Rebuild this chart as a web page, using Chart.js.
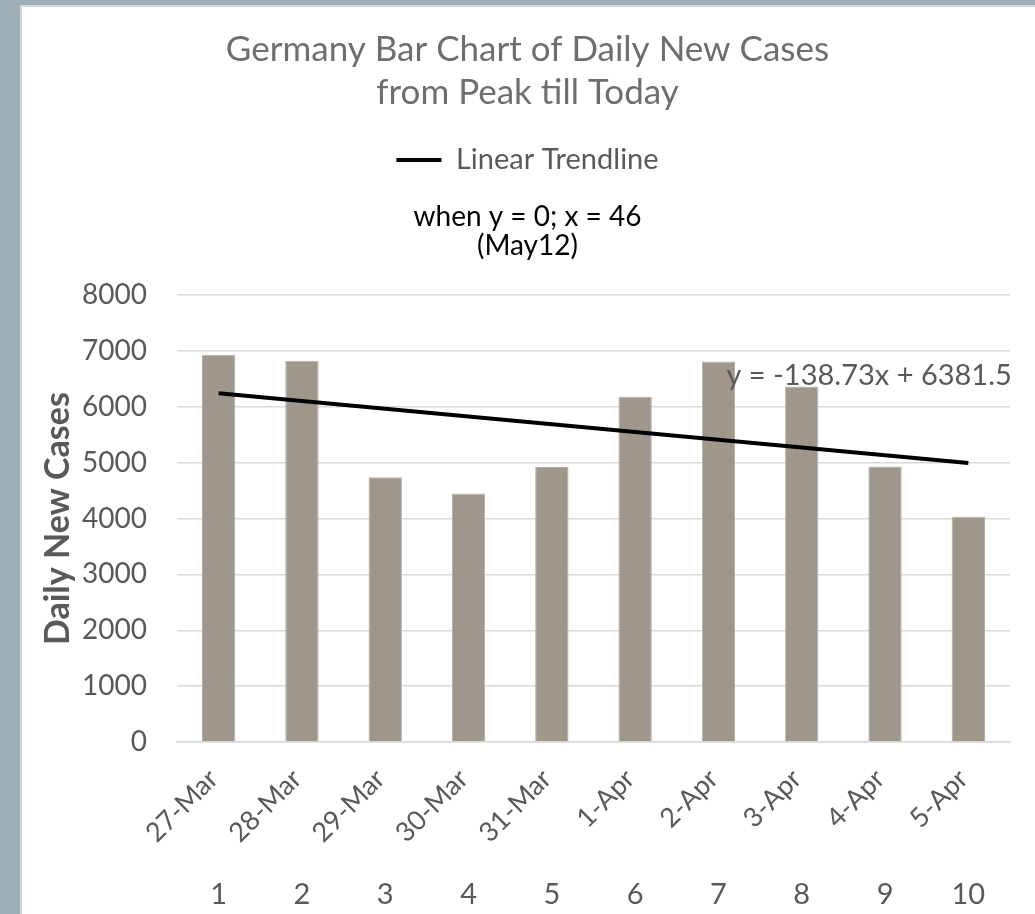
<!DOCTYPE html>
<html>
<head>
<meta charset="utf-8">
<script src="https://cdn.jsdelivr.net/npm/chart.js@4/dist/chart.umd.min.js"></script>
<style>
  html, body { margin: 0; padding: 0; }
  body { width: 1035px; height: 914px; background: #9eafb6; position: relative; overflow: hidden; }
  #panel { position: absolute; left: 20px; top: 5px; width: 1015px; height: 909px; background: #ffffff; box-sizing: border-box; border-left: 2px solid #d3d8da; border-top: 2px solid #d3d8da; }
  #c { position: absolute; left: 20px; top: 5px; }
</style>
</head>
<body>
<div id="panel"></div>
<canvas id="c" width="1015" height="909"></canvas>
<script>
// ---- data ----
const categories = ['27-Mar', '28-Mar', '29-Mar', '30-Mar', '31-Mar', '1-Apr', '2-Apr', '3-Apr', '4-Apr', '5-Apr'];
const dayNumbers = ['1', '2', '3', '4', '5', '6', '7', '8', '9', '10'];
const dailyNewCases = [6933, 6824, 4740, 4450, 4923, 6180, 6813, 6365, 4933, 4031];
const trendline = [6243, 6104, 5965, 5827, 5688, 5549, 5410, 5272, 5133, 4994];
const yTicks = [0, 1000, 2000, 3000, 4000, 5000, 6000, 7000, 8000];
const titleLines = ['Germany Bar Chart of Daily New Cases', 'from Peak till Today'];
const subtitleLines = ['when y = 0; x = 46', '(May12)'];
const equationText = 'y = -138.73x + 6381.5';

const FONT = "Lato, 'Open Sans', sans-serif";
const GREY = '#595959';

const equationPlugin = {
  id: 'equation',
  afterDatasetsDraw(chart) {
    const ctx = chart.ctx;
    const xs = chart.scales.x, ys = chart.scales.y;
    ctx.save();
    ctx.font = '29px ' + FONT;
    ctx.fillStyle = GREY;
    ctx.textAlign = 'left';
    ctx.textBaseline = 'alphabetic';
    ctx.fillText(equationText, xs.getPixelForValue(6) + 8, ys.getPixelForValue(6000) - 22);
    ctx.restore();
  }
};

new Chart(document.getElementById('c'), {
  data: {
    labels: categories,
    datasets: [
      {
        type: 'line',
        label: 'Linear Trendline',
        data: trendline,
        borderColor: '#000000',
        backgroundColor: '#000000',
        borderWidth: 4,
        pointRadius: 0,
        tension: 0,
        fill: false,
        order: 0,
        xAxisID: 'x',
        yAxisID: 'y'
      },
      {
        type: 'bar',
        label: 'Daily New Cases',
        data: dailyNewCases,
        backgroundColor: '#a0978b',
        borderColor: '#b3aca2',
        borderWidth: 1,
        categoryPercentage: 1,
        barPercentage: 0.4,
        order: 1,
        xAxisID: 'x',
        yAxisID: 'y'
      }
    ]
  },
  options: {
    responsive: false,
    animation: false,
    layout: { padding: { left: 0, right: 0, top: 0, bottom: 0 } },
    plugins: {
      tooltip: { enabled: false },
      title: {
        display: true,
        text: titleLines,
        color: '#6e6e6e',
        font: { family: FONT, size: 35, weight: 'normal', lineHeight: 1.23 },
        padding: { top: 23.5, bottom: 21 }
      },
      legend: {
        display: true,
        position: 'top',
        weight: 1800,
        labels: {
          usePointStyle: true,
          pointStyle: 'line',
          pointStyleWidth: 45,
          color: GREY,
          font: { family: FONT, size: 29 },
          filter: (item) => item.text === 'Linear Trendline'
        }
      },
      subtitle: {
        display: true,
        text: subtitleLines,
        color: '#000000',
        font: { family: FONT, size: 28, weight: 'normal', lineHeight: 1.036 },
        padding: { top: 18, bottom: 34.5 }
      }
    },
    scales: {
      x: {
        type: 'category',
        position: 'bottom',
        weight: 1,
        grid: { display: false, drawTicks: false },
        border: { display: true, color: '#d9d9d9', width: 1.5 },
        ticks: { color: GREY, font: { family: FONT, size: 27 }, minRotation: 45, maxRotation: 45, padding: 21, labelOffset: -5, autoSkip: false },
        afterFit: (s) => { s.height = 120; }
      },
      x2: {
        type: 'category',
        position: 'bottom',
        weight: 2,
        offset: true,
        labels: dayNumbers,
        grid: { display: false, drawTicks: false },
        border: { display: false },
        ticks: { color: GREY, font: { family: FONT, size: 29 }, padding: 15, maxRotation: 0, autoSkip: false },
        afterFit: (s) => { s.height = 52; }
      },
      y: {
        min: 0,
        max: 8000,
        afterBuildTicks: (s) => { s.ticks = yTicks.map(v => ({ value: v })); },
        grid: { color: '#d9d9d9', lineWidth: 1.5, drawTicks: false },
        border: { display: false },
        ticks: { color: GREY, font: { family: FONT, size: 28 }, padding: 30, callback: (v) => String(v) },
        title: {
          display: true,
          text: 'Daily New Cases',
          color: GREY,
          font: { family: FONT, size: 34, weight: 'bold' },
          padding: { top: 18, bottom: 0 }
        },
        afterFit: (s) => { s.width = 157; }
      },
      yRight: {
        position: 'right',
        min: 0,
        max: 8000,
        grid: { display: false, drawTicks: false },
        border: { display: false },
        ticks: { display: false },
        afterFit: (s) => { s.width = 25; }
      }
    }
  },
  plugins: [equationPlugin]
});
</script>
</body>
</html>
